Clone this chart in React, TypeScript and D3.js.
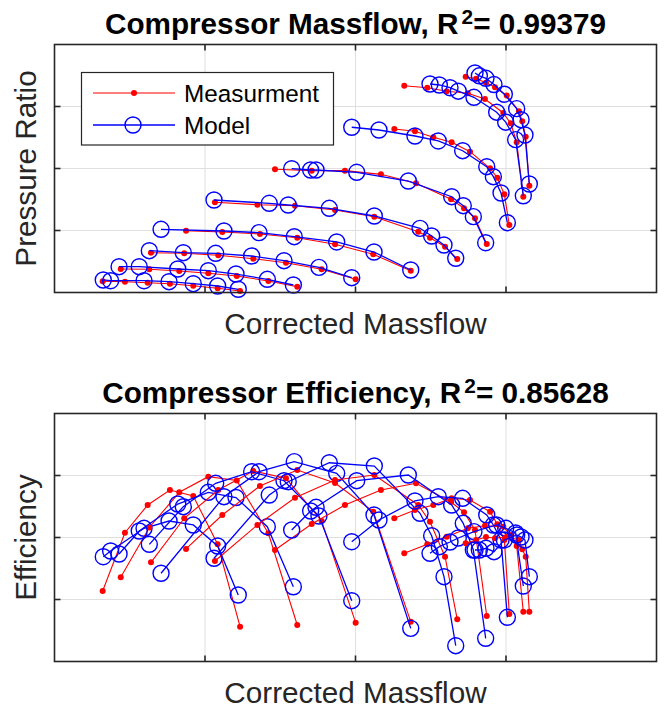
import React from 'react';
import * as d3 from 'd3';

// tick positions (axes carry no tick labels)
const xTicks = [1, 2, 3];
const yTicks = [1, 2, 3];

const r2Massflow = '0.99379';
const r2Efficiency = '0.85628';

// measured corrected massflow, one array per speed line
const measMassflow: number[][] = [
  [0.32, 0.468, 0.619, 0.767, 0.922, 1.084, 1.233],
  [0.44, 0.63, 0.829, 1.022, 1.211, 1.421, 1.613],
  [0.641, 0.862, 1.088, 1.321, 1.538, 1.775, 2.001],
  [0.874, 1.115, 1.365, 1.613, 1.864, 2.118, 2.367],
  [1.066, 1.348, 1.598, 1.864, 2.125, 2.417, 2.495, 2.595, 2.676],
  [1.465, 1.709, 1.93, 2.169, 2.402, 2.635, 2.721, 2.794, 2.872],
  [2.258, 2.395, 2.517, 2.639, 2.761, 2.894, 2.942, 2.989, 3.022],
  [2.324, 2.477, 2.606, 2.746, 2.86, 2.982, 3.031, 3.071, 3.115],
  [2.732, 2.801, 2.867, 2.927, 3.005, 3.086, 3.108, 3.131, 3.155],
];

const measPressureRatio: number[][] = [
  [0.181, 0.174, 0.158, 0.142, 0.11, 0.068, 0.024],
  [0.379, 0.374, 0.347, 0.31, 0.266, 0.185, 0.094],
  [0.642, 0.632, 0.6, 0.545, 0.481, 0.374, 0.213],
  [0.997, 0.976, 0.944, 0.884, 0.777, 0.616, 0.352],
  [1.455, 1.416, 1.4, 1.331, 1.223, 0.981, 0.884, 0.739, 0.54],
  [1.987, 1.965, 1.965, 1.906, 1.761, 1.503, 1.358, 1.197, 0.782],
  [2.637, 2.6, 2.503, 2.423, 2.271, 2.003, 1.852, 1.584, 1.089],
  [3.334, 3.303, 3.247, 3.213, 3.121, 2.895, 2.729, 2.424, 1.545],
  [3.481, 3.448, 3.384, 3.31, 3.177, 2.924, 2.761, 2.513, 1.723],
];

const measEfficiency: number[][] = [
  [1.137, 2.077, 2.524, 2.766, 2.669, 1.89, 0.561],
  [1.358, 2.161, 2.729, 2.981, 2.919, 2.068, 0.589],
  [1.6, 2.31, 2.766, 3.073, 2.955, 2.266, 0.626],
  [1.815, 2.363, 2.831, 3.089, 2.879, 2.416, 0.642],
  [1.621, 2.202, 2.642, 2.927, 3.008, 2.524, 2.255, 1.69, 0.681],
  [1.798, 2.218, 2.524, 2.766, 2.874, 2.573, 2.406, 2.121, 0.734],
  [2.31, 2.444, 2.524, 2.632, 2.605, 2.416, 2.213, 1.96, 0.766],
  [1.745, 1.89, 2.013, 2.148, 2.19, 2.174, 2.04, 1.863, 0.803],
  [1.906, 1.96, 2.008, 1.987, 2.013, 1.96, 1.81, 1.69, 0.803],
];

// model predictions
const modelMassflow: number[][] = [
  [0.324, 0.373, 0.595, 0.761, 0.922, 1.084, 1.221],
  [0.429, 0.563, 0.819, 1.022, 1.206, 1.414, 1.587],
  [0.63, 0.856, 1.071, 1.31, 1.525, 1.757, 1.975],
  [0.708, 1.126, 1.359, 1.593, 1.875, 2.123, 2.367],
  [1.06, 1.427, 1.553, 1.826, 2.125, 2.429, 2.506, 2.588, 2.666],
  [1.576, 1.702, 1.738, 2.008, 2.351, 2.639, 2.716, 2.783, 2.865],
  [1.975, 2.156, 2.395, 2.55, 2.712, 2.872, 2.916, 2.967, 3.009],
  [2.495, 2.557, 2.628, 2.683, 2.787, 2.938, 2.998, 3.064, 3.115],
  [2.794, 2.823, 2.867, 2.92, 2.989, 3.071, 3.1, 3.126, 3.155],
];

const modelPressureRatio: number[][] = [
  [0.202, 0.19, 0.19, 0.174, 0.142, 0.105, 0.052],
  [0.416, 0.416, 0.379, 0.352, 0.298, 0.213, 0.121],
  [0.674, 0.642, 0.632, 0.589, 0.513, 0.406, 0.239],
  [1.019, 0.992, 0.965, 0.9, 0.815, 0.653, 0.363],
  [1.492, 1.439, 1.411, 1.358, 1.234, 1.035, 0.911, 0.766, 0.552],
  [1.997, 1.976, 1.976, 1.939, 1.798, 1.545, 1.4, 1.223, 0.803],
  [2.665, 2.621, 2.524, 2.444, 2.287, 2.029, 1.868, 1.605, 1.126],
  [3.363, 3.347, 3.303, 3.247, 3.148, 2.908, 2.747, 2.465, 1.56],
  [3.54, 3.495, 3.455, 3.355, 3.198, 2.965, 2.787, 2.54, 1.75],
];

const modelEfficiency: number[][] = [
  [1.69, 1.782, 2.148, 2.266, 2.202, 1.863, 1.073],
  [1.734, 2.105, 2.54, 2.729, 2.645, 2.174, 1.206],
  [1.89, 2.497, 2.874, 3.061, 2.916, 2.347, 0.981],
  [1.423, 2.658, 3.061, 3.223, 3.035, 2.363, 0.535],
  [1.665, 2.685, 2.9, 3.206, 3.153, 2.39, 2.029, 1.368, 0.255],
  [2.121, 2.427, 2.487, 2.916, 3.008, 2.524, 2.229, 1.798, 0.374],
  [1.932, 2.282, 2.589, 2.658, 2.632, 2.363, 2.202, 1.96, 0.713],
  [1.745, 1.852, 1.927, 1.992, 2.094, 2.202, 2.148, 2.073, 1.218],
  [1.798, 1.798, 1.826, 1.771, 1.96, 2.04, 2.008, 1.96, 1.368],
];

const FONT = '"Liberation Sans", Arial, Helvetica, sans-serif';
const AXIS = '#262626';
const GRID = '#dfdfdf';
const RED = '#ff0000';
const BLUE = '#0000ff';

const x = d3.scaleLinear().domain([0, 4]).range([54.5, 656.5]);

type PanelProps = {
  top: number;
  bottom: number;
  title: string;
  r2: string;
  yLabel: string;
  measY: number[][];
  modelY: number[][];
  legend?: boolean;
};

const Panel: React.FC<PanelProps> = (props) => {
  const y = d3.scaleLinear().domain([0, 4]).range([props.bottom, props.top]);
  const [xl, xr] = x.range();
  const line = d3
    .line<[number, number]>()
    .x((d) => x(d[0]))
    .y((d) => y(d[1]));
  const midX = (xl + xr) / 2;
  const midY = (props.top + props.bottom) / 2;

  const series = measMassflow.map((mx, i) => ({
    meas: mx.map((v, j) => [v, props.measY[i][j]] as [number, number]),
    model: modelMassflow[i].map((v, j) => [v, props.modelY[i][j]] as [number, number]),
  }));

  return (
    <g>
      <rect x={xl} y={props.top} width={xr - xl} height={props.bottom - props.top} fill="#fff" />
      {xTicks.map((t) => (
        <line key={'gx' + t} x1={x(t)} x2={x(t)} y1={props.top} y2={props.bottom} stroke={GRID} strokeWidth={1} />
      ))}
      {yTicks.map((t) => (
        <line key={'gy' + t} x1={xl} x2={xr} y1={y(t)} y2={y(t)} stroke={GRID} strokeWidth={1} />
      ))}

      {series.map((s, i) => (
        <g key={i}>
          <path d={line(s.meas) || ''} fill="none" stroke={RED} strokeWidth={1.1} />
          {s.meas.map((p, j) => (
            <circle key={j} cx={x(p[0])} cy={y(p[1])} r={3} fill={RED} />
          ))}
          <path d={line(s.model) || ''} fill="none" stroke={BLUE} strokeWidth={1.3} />
          {s.model.map((p, j) => (
            <circle key={j} cx={x(p[0])} cy={y(p[1])} r={8} fill="none" stroke={BLUE} strokeWidth={1.4} />
          ))}
        </g>
      ))}

      {/* box and inward ticks */}
      <rect x={xl} y={props.top} width={xr - xl} height={props.bottom - props.top} fill="none" stroke={AXIS} strokeWidth={1.6} />
      {xTicks.map((t) => (
        <g key={'tx' + t}>
          <line x1={x(t)} x2={x(t)} y1={props.bottom} y2={props.bottom - 6} stroke={AXIS} strokeWidth={1.6} />
          <line x1={x(t)} x2={x(t)} y1={props.top} y2={props.top + 6} stroke={AXIS} strokeWidth={1.6} />
        </g>
      ))}
      {yTicks.map((t) => (
        <g key={'ty' + t}>
          <line x1={xl} x2={xl + 6} y1={y(t)} y2={y(t)} stroke={AXIS} strokeWidth={1.6} />
          <line x1={xr} x2={xr - 6} y1={y(t)} y2={y(t)} stroke={AXIS} strokeWidth={1.6} />
        </g>
      ))}

      <text x={midX} y={props.top - 11} textAnchor="middle" fontFamily={FONT} fontWeight="bold" fontSize={29.7} fill="#000">
        {props.title + ', R'}
        <tspan dx={3} dy={-10} fontSize={20.8}>2</tspan>
        <tspan dy={10}>{'= ' + props.r2}</tspan>
      </text>
      <text x={midX} y={props.bottom + 41} textAnchor="middle" fontFamily={FONT} fontSize={29.7} fill={AXIS}>
        Corrected Massflow
      </text>
      <text
        transform={`translate(36,${midY}) rotate(-90)`}
        textAnchor="middle"
        fontFamily={FONT}
        fontSize={29.7}
        fill={AXIS}
      >
        {props.yLabel}
      </text>

      {props.legend && (
        <g>
          <rect x={81.5} y={72.5} width={252} height={72.5} fill="#fff" stroke={AXIS} strokeWidth={1.2} />
          <line x1={93} x2={175} y1={93} y2={93} stroke={RED} strokeWidth={1.1} />
          <circle cx={134} cy={93} r={3} fill={RED} />
          <line x1={93} x2={175} y1={125} y2={125} stroke={BLUE} strokeWidth={1.3} />
          <circle cx={133} cy={125} r={8} fill="none" stroke={BLUE} strokeWidth={1.4} />
          <text x={184} y={101.5} fontFamily={FONT} fontSize={24.3} fill="#000">Measurment</text>
          <text x={184} y={133.5} fontFamily={FONT} fontSize={24.3} fill="#000">Model</text>
        </g>
      )}
    </g>
  );
};

export default function App() {
  return (
    <svg
      width={665}
      height={711}
      style={{ position: 'absolute', left: 0, top: 0, background: '#fff' }}
    >
      <rect width={665} height={711} fill="#fff" />
      <Panel
        top={44.5}
        bottom={292.5}
        title="Compressor Massflow"
        r2={r2Massflow}
        yLabel="Pressure Ratio"
        measY={measPressureRatio}
        modelY={modelPressureRatio}
        legend
      />
      <Panel
        top={413.5}
        bottom={661.5}
        title="Compressor Efficiency"
        r2={r2Efficiency}
        yLabel="Efficiency"
        measY={measEfficiency}
        modelY={modelEfficiency}
      />
    </svg>
  );
}
